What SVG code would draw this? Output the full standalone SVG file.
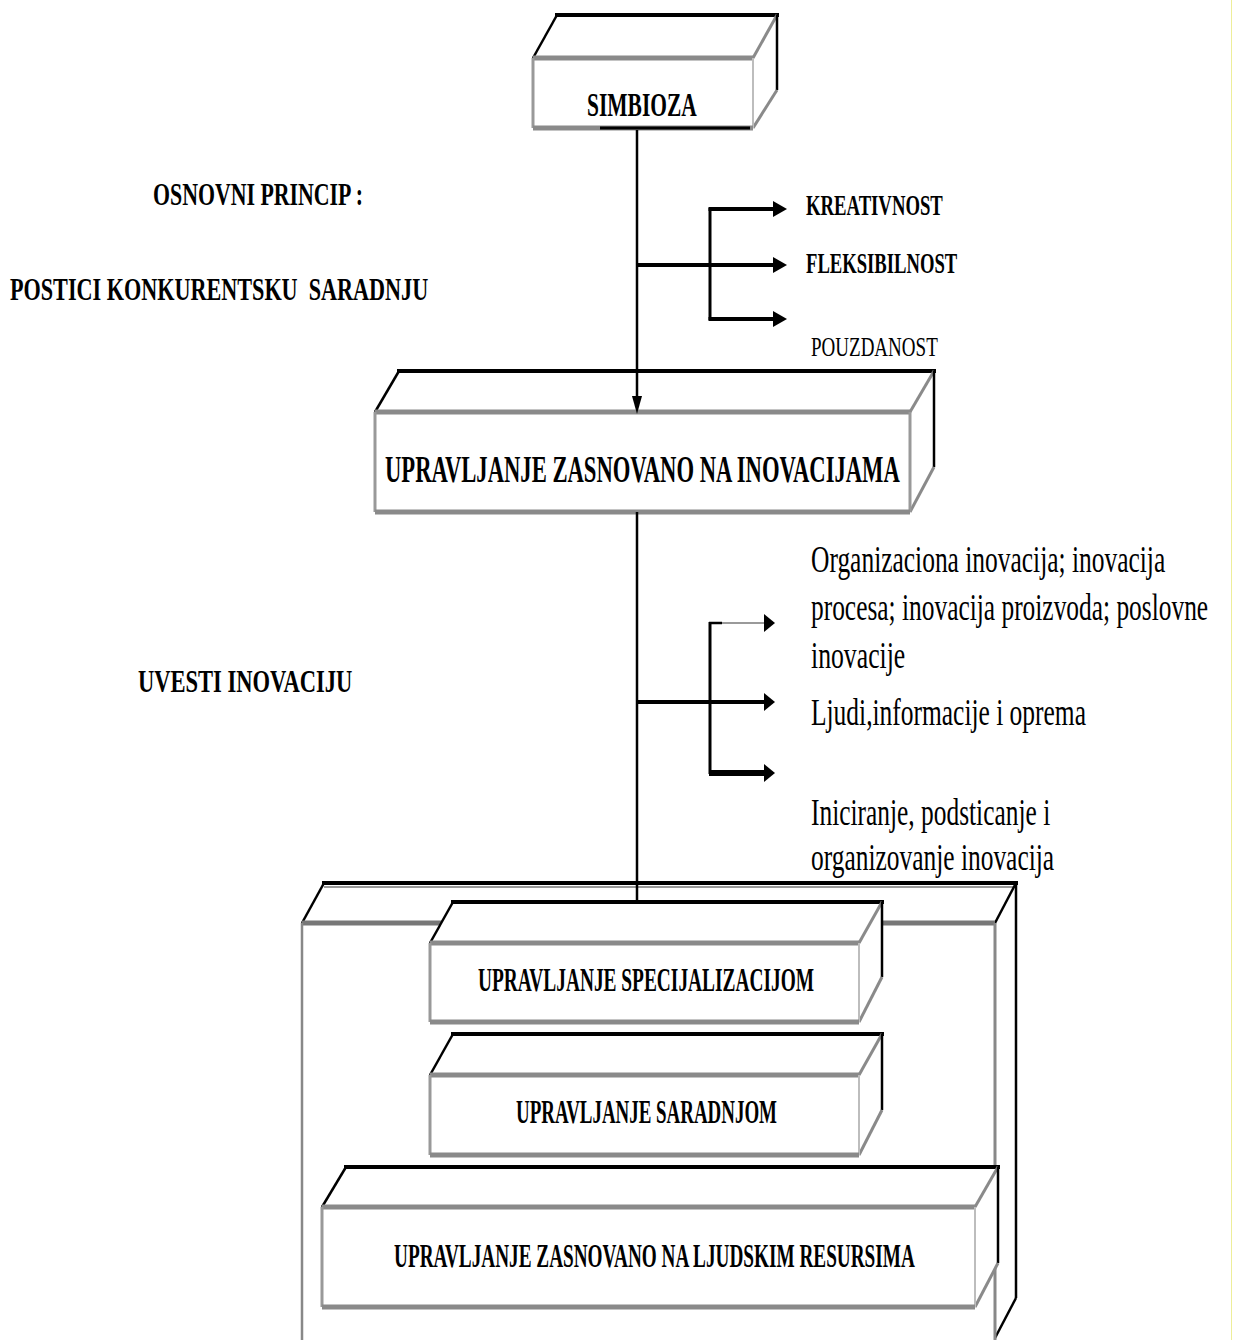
<svg xmlns="http://www.w3.org/2000/svg" width="1237" height="1340" viewBox="0 0 1237 1340">
  <style>
    .face { fill: #ffffff; stroke: none; }
    .k-back { stroke: #000; stroke-width: 4; fill: none; stroke-linecap: square; }
    .k-edge { stroke: #000; stroke-width: 2.5; fill: none; }
    .g-top { stroke: #8a8a8a; stroke-width: 5; fill: none; }
    .g-side { stroke: #999; stroke-width: 3; fill: none; }
    .g-light { stroke: #bdbdbd; stroke-width: 2; fill: none; }
    .g-diag { stroke: #8a8a8a; stroke-width: 3; fill: none; }
    .t { font-family: "Liberation Serif", "Times New Roman", serif; fill: #000; }
    .tb { font-weight: bold; }
    .wire { stroke: #000; fill: none; }
    .head { fill: #000; stroke: none; }
  </style>

  <!-- faint page edge on the right -->
  <line x1="1231.5" y1="0" x2="1231.5" y2="1340" stroke="#eeee99" stroke-width="1"/>

  <!-- SIMBIOZA block -->
  <g id="node-simbioza">
    <polygon class="face" points="533,58 557,15 777,15 777,90 753,128 533,128"/>
    <line class="k-back" x1="557" y1="15" x2="777" y2="15"/>
    <line class="k-edge" x1="533" y1="58" x2="557" y2="15"/>
    <line class="g-diag" x1="753" y1="58" x2="777" y2="15"/>
    <line class="k-edge" x1="777" y1="15" x2="777" y2="90"/>
    <line class="g-diag" x1="777" y1="90" x2="753" y2="128"/>
    <line class="g-top" x1="533" y1="58" x2="753" y2="58"/>
    <line class="g-side" x1="533" y1="58" x2="533" y2="128"/>
    <line class="g-light" x1="753" y1="58" x2="753" y2="128"/>
    <line class="g-top" x1="533" y1="128" x2="753" y2="128"/>
    <line stroke="#000" stroke-width="3" x1="600" y1="128" x2="750" y2="128"/>
    <text class="t tb" transform="translate(587,116) scale(0.6,1)" font-size="33" textLength="183" lengthAdjust="spacingAndGlyphs">SIMBIOZA</text>
  </g>

  <!-- Innovation management block -->
  <g id="node-inovacije">
    <polygon class="face" points="375,412 399,371 934,371 934,467 910,512 375,512"/>
    <line class="k-back" x1="399" y1="371" x2="934" y2="371"/>
    <line class="k-edge" x1="375" y1="412" x2="399" y2="371"/>
    <line class="g-diag" x1="910" y1="412" x2="934" y2="371"/>
    <line class="k-edge" x1="934" y1="371" x2="934" y2="467"/>
    <line class="g-diag" x1="934" y1="467" x2="910" y2="512"/>
    <line class="g-top" x1="375" y1="412" x2="910" y2="412"/>
    <line class="g-side" x1="375" y1="412" x2="375" y2="512"/>
    <line class="g-side" x1="910" y1="412" x2="910" y2="512"/>
    <line class="g-top" x1="375" y1="512" x2="910" y2="512"/>
    <text class="t tb" transform="translate(385,482) scale(0.6,1)" font-size="37" textLength="858" lengthAdjust="spacingAndGlyphs">UPRAVLJANJE ZASNOVANO NA INOVACIJAMA</text>
  </g>

  <!-- Outer container block -->
  <g id="node-okvir">
    <polygon class="face" points="302,923 324,883 1016,883 1016,1298 995,1338 302,1338"/>
    <line class="k-back" x1="324" y1="883" x2="1016" y2="883"/>
    <line stroke="#999" stroke-width="2" x1="324" y1="887" x2="1016" y2="887"/>
    <line class="k-edge" x1="302" y1="923" x2="324" y2="883"/>
    <line class="k-edge" x1="995" y1="923" x2="1016" y2="883"/>
    <line class="k-edge" x1="1016" y1="883" x2="1016" y2="1298"/>
    <line class="k-edge" x1="1016" y1="1298" x2="995" y2="1338"/>
    <line stroke="#777" stroke-width="5" x1="302" y1="923" x2="995" y2="923"/>
    <line stroke="#888" stroke-width="2.5" x1="302" y1="923" x2="302" y2="1340"/>
    <line stroke="#888" stroke-width="3" x1="995" y1="923" x2="995" y2="1340"/>
  </g>

  <!-- Specialisation block -->
  <g id="node-specijalizacija">
    <polygon class="face" points="430,943 453,902 882,902 882,977 859,1022 430,1022"/>
    <line class="k-back" x1="453" y1="902" x2="882" y2="902"/>
    <line class="k-edge" x1="430" y1="943" x2="453" y2="902"/>
    <line class="g-diag" x1="859" y1="943" x2="882" y2="902"/>
    <line class="k-edge" x1="882" y1="902" x2="882" y2="977"/>
    <line class="g-diag" x1="882" y1="977" x2="859" y2="1022"/>
    <line class="g-top" x1="430" y1="943" x2="859" y2="943"/>
    <line class="g-side" x1="430" y1="943" x2="430" y2="1022"/>
    <line class="g-light" x1="859" y1="943" x2="859" y2="1022"/>
    <line class="g-top" x1="430" y1="1022" x2="859" y2="1022"/>
    <text class="t tb" transform="translate(478,991) scale(0.6,1)" font-size="33" textLength="560" lengthAdjust="spacingAndGlyphs">UPRAVLJANJE SPECIJALIZACIJOM</text>
  </g>

  <!-- Cooperation block -->
  <g id="node-saradnja">
    <polygon class="face" points="430,1075 453,1034 882,1034 882,1110 859,1155 430,1155"/>
    <line class="k-back" x1="453" y1="1034" x2="882" y2="1034"/>
    <line class="k-edge" x1="430" y1="1075" x2="453" y2="1034"/>
    <line class="g-diag" x1="859" y1="1075" x2="882" y2="1034"/>
    <line class="k-edge" x1="882" y1="1034" x2="882" y2="1110"/>
    <line class="g-diag" x1="882" y1="1110" x2="859" y2="1155"/>
    <line class="g-top" x1="430" y1="1075" x2="859" y2="1075"/>
    <line class="g-side" x1="430" y1="1075" x2="430" y2="1155"/>
    <line class="g-light" x1="859" y1="1075" x2="859" y2="1155"/>
    <line class="g-top" x1="430" y1="1155" x2="859" y2="1155"/>
    <text class="t tb" transform="translate(516,1123) scale(0.6,1)" font-size="33" textLength="435" lengthAdjust="spacingAndGlyphs">UPRAVLJANJE SARADNJOM</text>
  </g>

  <!-- Human resources block -->
  <g id="node-ljudski-resursi">
    <polygon class="face" points="322,1207 346,1167 998,1167 998,1263 975,1307 322,1307"/>
    <line class="k-back" x1="346" y1="1167" x2="998" y2="1167"/>
    <line class="k-edge" x1="322" y1="1207" x2="346" y2="1167"/>
    <line class="g-diag" x1="975" y1="1207" x2="998" y2="1167"/>
    <line class="k-edge" x1="998" y1="1167" x2="998" y2="1263"/>
    <line class="g-diag" x1="998" y1="1263" x2="975" y2="1307"/>
    <line class="g-top" x1="322" y1="1207" x2="975" y2="1207"/>
    <line class="g-side" x1="322" y1="1207" x2="322" y2="1307"/>
    <line class="g-light" x1="975" y1="1207" x2="975" y2="1307"/>
    <line class="g-top" x1="322" y1="1307" x2="975" y2="1307"/>
    <text class="t tb" transform="translate(394,1267) scale(0.55,1)" font-size="33" textLength="947" lengthAdjust="spacingAndGlyphs">UPRAVLJANJE ZASNOVANO NA LJUDSKIM RESURSIMA</text>
  </g>

  <!-- Connectors -->
  <g id="connectors">
    <!-- trunk from SIMBIOZA down to the innovation block -->
    <line class="wire" stroke-width="2.5" x1="637" y1="130" x2="637" y2="400"/>
    <polygon class="head" points="632,396 642,396 637,414"/>
    <!-- trunk from the innovation block down to the stack -->
    <line class="wire" stroke-width="2.5" x1="637" y1="512" x2="637" y2="903"/>

    <!-- first fan-out -->
    <line class="wire" stroke-width="4" x1="637" y1="265" x2="776" y2="265"/>
    <line class="wire" stroke-width="3" x1="710" y1="208" x2="710" y2="320"/>
    <line class="wire" stroke-width="4" x1="708.5" y1="209" x2="776" y2="209"/>
    <line class="wire" stroke-width="4" x1="708.5" y1="319" x2="776" y2="319"/>
    <polygon class="head" points="773,201 773,217 787,209"/>
    <polygon class="head" points="773,257 773,273 787,265"/>
    <polygon class="head" points="773,311 773,327 787,319"/>

    <!-- second fan-out -->
    <line class="wire" stroke-width="4" x1="637" y1="702" x2="766" y2="702"/>
    <line class="wire" stroke-width="3" x1="710" y1="622" x2="710" y2="774"/>
    <line stroke="#000" stroke-width="2.5" x1="709" y1="623" x2="722" y2="623"/>
    <line stroke="#9a9a9a" stroke-width="2" x1="722" y1="623" x2="766" y2="623"/>
    <line class="wire" stroke-width="6" x1="709" y1="773" x2="766" y2="773"/>
    <polygon class="head" points="764,614 764,632 775,623"/>
    <polygon class="head" points="764,693 764,711 775,702"/>
    <polygon class="head" points="764,764 764,782 775,773"/>
  </g>

  <!-- Side captions -->
  <g id="labels">
    <text class="t tb" transform="translate(153,205) scale(0.6,1)" font-size="31" textLength="350" lengthAdjust="spacingAndGlyphs">OSNOVNI PRINCIP :</text>
    <text class="t tb" transform="translate(10,300) scale(0.6,1)" font-size="31" textLength="697" lengthAdjust="spacingAndGlyphs" xml:space="preserve">POSTICI KONKURENTSKU  SARADNJU</text>
    <text class="t tb" transform="translate(138,692) scale(0.6,1)" font-size="31" textLength="357" lengthAdjust="spacingAndGlyphs">UVESTI INOVACIJU</text>

    <text class="t tb" transform="translate(806,215) scale(0.6,1)" font-size="29" textLength="228" lengthAdjust="spacingAndGlyphs">KREATIVNOST</text>
    <text class="t tb" transform="translate(806,273) scale(0.6,1)" font-size="29" textLength="252" lengthAdjust="spacingAndGlyphs">FLEKSIBILNOST</text>
    <text class="t" transform="translate(811,356) scale(0.65,1)" font-size="28" textLength="195" lengthAdjust="spacingAndGlyphs">POUZDANOST</text>

    <text class="t" transform="translate(811,572) scale(0.65,1)" font-size="37" textLength="545" lengthAdjust="spacingAndGlyphs">Organizaciona inovacija; inovacija</text>
    <text class="t" transform="translate(811,620) scale(0.65,1)" font-size="37" textLength="611" lengthAdjust="spacingAndGlyphs">procesa; inovacija proizvoda; poslovne</text>
    <text class="t" transform="translate(811,668) scale(0.65,1)" font-size="37" textLength="145" lengthAdjust="spacingAndGlyphs">inovacije</text>
    <text class="t" transform="translate(811,725) scale(0.65,1)" font-size="37" textLength="423" lengthAdjust="spacingAndGlyphs">Ljudi,informacije i oprema</text>
    <text class="t" transform="translate(811,825) scale(0.65,1)" font-size="37" textLength="368" lengthAdjust="spacingAndGlyphs">Iniciranje, podsticanje i</text>
    <text class="t" transform="translate(811,870) scale(0.65,1)" font-size="37" textLength="374" lengthAdjust="spacingAndGlyphs">organizovanje inovacija</text>
  </g>
</svg>
